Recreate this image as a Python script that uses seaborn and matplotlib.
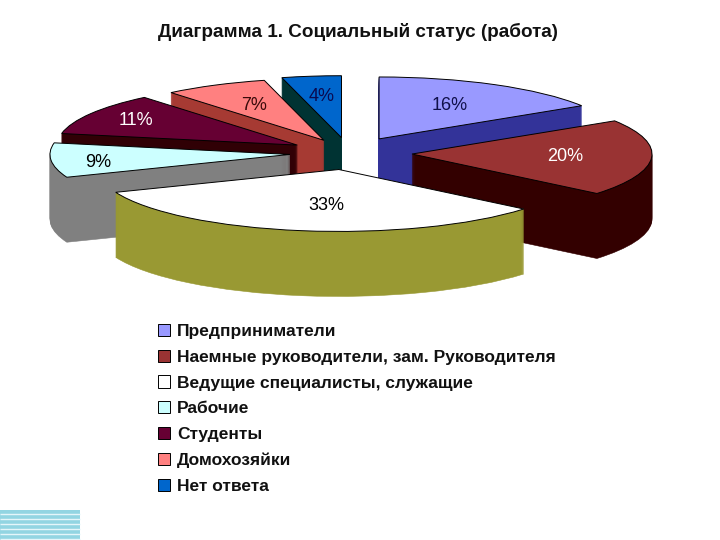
"""Exploded pseudo-3D pie chart of social status"""

import math
import numpy as np
import seaborn as sns
import matplotlib.pyplot as plt

title = "Диаграмма 1. Социальный статус (работа)"
categories = [
    "Предприниматели",
    "Наемные руководители, зам. Руководителя",
    "Ведущие специалисты, служащие",
    "Рабочие",
    "Студенты",
    "Домохозяйки",
    "Нет ответа",
]
shares = [16, 20, 33, 9, 11, 7, 4]

top_colors = ["#9999ff", "#993333", "#ffffff", "#ccffff", "#660033", "#ff8080", "#0066cc"]
wall_colors = ["#333399", "#330000", "#999933", "#808080", "#300005", "#a63a33", "#003333"]
label_colors = ["#10104a", "#ffffff", "#000000", "#000000", "#ffffff", "#3a0a0a", "#0a0a50"]
explode_frac = [0.26, 0.263, 0.27, 0.247, 0.25, 0.23, 0.25]
label_dist = [0.61, 0.64, 0.58, 0.81, 0.78, 0.64, 0.67]
label_turn = [0, 0, 4, 4, 0, 0, 0]
# back to front, so nearer slices cover the farther ones
paint_rank = [2, 5, 6, 4, 3, 1, 0]

squash = 0.258
radius = 240
center_x, center_y = 349, 153
depth = 65
explode = [e * radius for e in explode_frac]

sns.set_style("white")
plt.rcParams["font.family"] = ["Liberation Sans", "DejaVu Sans"]

fig = plt.figure(figsize=(7.2, 5.4), dpi=100)
ax = fig.add_axes([0, 0, 1, 1])


def to_y(py):
    return (540 - py) / squash


# side walls: stacked copies of the pie, lowest first
for k in range(depth, 0, -1):
    wedges, _ = ax.pie(shares, explode=explode, colors=wall_colors, startangle=90,
                       counterclock=False, radius=radius,
                       center=(center_x, to_y(center_y + k)),
                       wedgeprops={"linewidth": 0.4})
    for wedge, color, rank in zip(wedges, wall_colors, paint_rank):
        wedge.set_zorder(rank * 1000 + depth - k)
        wedge.set_edgecolor(color)

tops, _, pct_labels = ax.pie(shares, explode=explode, colors=top_colors, startangle=90,
                             counterclock=False, radius=radius,
                             center=(center_x, to_y(center_y)), autopct="%.0f%%",
                             wedgeprops={"linewidth": 0.7, "edgecolor": "black"})
for wedge, rank in zip(tops, paint_rank):
    wedge.set_zorder(rank * 1000 + depth + 1)

for wedge, text, color, dist, turn in zip(tops, pct_labels, label_colors, label_dist, label_turn):
    mid = math.radians((wedge.theta1 + wedge.theta2) / 2 + turn)
    text.set_position((wedge.center[0] + dist * wedge.r * math.cos(mid),
                       wedge.center[1] + dist * wedge.r * math.sin(mid)))
    text.set_color(color)
    text.set_fontsize(13)
    text.set_zorder(9000)

ax.set_aspect("auto")
ax.set_xlim(0, 720)
ax.set_ylim(0, to_y(0))
ax.axis("off")

fig.text(358 / 720, 1 - 32 / 540, title, ha="center", va="center", fontsize=13.55, fontweight="bold", color="#111111")

ax.legend(tops, categories, loc="upper left", bbox_to_anchor=(158 / 720, 1 - 324 / 540),
          frameon=False, handlelength=0.7, handleheight=0.7,
          handletextpad=0.4, labelspacing=0.605, borderpad=0, borderaxespad=0,
          labelcolor="#111111", prop={"weight": "bold", "size": 12.55})

# striped block in the bottom left corner
ax.axvspan(0, 80, ymin=0, ymax=30 / 540, color="#92d5e2", lw=0, zorder=9500)
ax.hlines(to_y(np.arange(514, 540, 5)), 0, 80, color="#e4f6fa", lw=1, zorder=9600)

fig.savefig("out.png", dpi=100)
